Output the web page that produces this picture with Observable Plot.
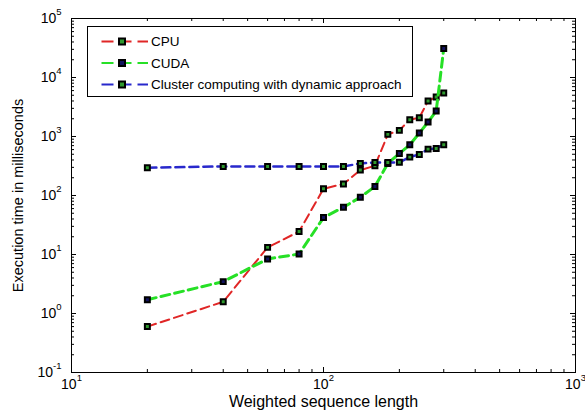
<!DOCTYPE html>
<html><head><meta charset="utf-8">
<script src="https://cdn.jsdelivr.net/npm/d3@7"></script>
<script src="https://cdn.jsdelivr.net/npm/@observablehq/plot@0.6"></script>
<style>body{margin:0;background:#fff} svg{display:block;background:#fff}</style>
</head><body><div id="chart"></div>
<script>
const lengths = [20,40,60,80,100,120,140,160,180,200,220,240,260,280,300];
const cpuTime = [0.60,1.58,13.2,24.5,130,157,270,319,1086,1270,1930,2085,3990,4670,5450];
const cudaTime = [1.71,3.47,8.4,10.2,42.3,63.3,93.5,142,349,516,726,1142,1755,2700,30970];
const clusterTime = [295,311,311,311,311,311,349,363,363,365,447,497,611,628,726];
const seriesNames = ["CPU","CUDA","Cluster computing with dynamic approach"];
const xMajorTicks = [10,100,1000];
const xTickLabels = ["10^1","10^2","10^3"];
const yMajorTicks = [0.1,1,10,100,1000,10000,100000];
const yTickLabels = ["10^-1","10^0","10^1","10^2","10^3","10^4","10^5"];
const xTitle = "Weighted sequence length";
const yTitle = "Execution time in milliseconds";

const styles = [
  {stroke:"#e02626", width:2, face:"#2f9a2f"},
  {stroke:"#26e026", width:3, face:"#12125e"},
  {stroke:"#2828cc", width:2.5, face:"#2f9a2f"}
];
const seriesValues = [cpuTime, cudaTime, clusterTime];

const minorOf = (majors) => {
  const out = [];
  for (let i = 0; i < majors.length - 1; i++) for (let m = 2; m <= 9; m++) out.push(+(majors[i]*m).toPrecision(3));
  return out;
};
const xMinorTicks = minorOf(xMajorTicks);
const yMinorTicks = minorOf(yMajorTicks);

const W = 585, H = 418, mL = 71, mR = 10, mT = 18, mB = 46;
const pw = W - mL - mR, ph = H - mT - mB;

const marks = [];
for (const [vals, len] of [[xMajorTicks,5],[xMinorTicks,3]]) {
  marks.push(Plot.tickX(vals, {x: d => d, insetTop: ph - len, stroke: "black", strokeWidth: 1}));
  marks.push(Plot.tickX(vals, {x: d => d, insetBottom: ph - len, stroke: "black", strokeWidth: 1}));
}
for (const [vals, len] of [[yMajorTicks,5],[yMinorTicks,3]]) {
  marks.push(Plot.tickY(vals, {y: d => d, insetRight: pw - len, stroke: "black", strokeWidth: 1}));
  marks.push(Plot.tickY(vals, {y: d => d, insetLeft: pw - len, stroke: "black", strokeWidth: 1}));
}
marks.push(Plot.frame({stroke: "black", strokeWidth: 1}));

seriesValues.forEach((vals, s) => {
  const rows = lengths.map((x, i) => ({x, y: vals[i]}));
  marks.push(Plot.line(rows, {x: "x", y: "y", stroke: styles[s].stroke, strokeWidth: styles[s].width, strokeDasharray: "9,5"}));
  marks.push(Plot.dot(rows, {x: "x", y: "y", symbol: "square", r: 2.8, fill: styles[s].face, stroke: "black", strokeWidth: 2}));
});

marks.push(Plot.text(xMajorTicks, {x: d => d, text: (d, i) => xTickLabels[i], frameAnchor: "bottom", dy: 16, fontSize: 14, textAnchor: "middle"}));
marks.push(Plot.text(yMajorTicks, {y: d => d, text: (d, i) => yTickLabels[i], frameAnchor: "left", dx: -10, fontSize: 14, textAnchor: "end"}));
marks.push(Plot.text([xTitle], {frameAnchor: "bottom", dy: 34, fontSize: 16, textAnchor: "middle"}));
marks.push(Plot.text([yTitle], {frameAnchor: "left", dx: -53, rotate: -90, fontSize: 14.5, textAnchor: "middle"}));

const chart = Plot.plot({
  width: W, height: H,
  marginLeft: mL, marginRight: mR, marginTop: mT, marginBottom: mB,
  x: {type: "log", domain: [10, 1000], axis: null},
  y: {type: "log", domain: [0.1, 100000], axis: null},
  style: {fontFamily: "'Liberation Sans', Arial, sans-serif", background: "white", color: "black"},
  marks
});
document.getElementById("chart").appendChild(chart);

// superscript exponents in tick labels
const NS = "http://www.w3.org/2000/svg";
chart.querySelectorAll("text").forEach(t => {
  const m = t.textContent.match(/^10\^(-?\d+)$/);
  if (m) {
    t.textContent = "10";
    const ts = document.createElementNS(NS, "tspan");
    ts.setAttribute("dy", "-8");
    ts.setAttribute("font-size", "9.5");
    ts.textContent = m[1];
    t.appendChild(ts);
  }
});

// legend
const svg = d3.select(chart);
const lg = svg.append("g").attr("font-family", "'Liberation Sans', Arial, sans-serif").attr("font-size", 13.5).attr("text-anchor", "start");
lg.append("rect").attr("x", 87.5).attr("y", 26.5).attr("width", 325).attr("height", 70).attr("fill", "white").attr("stroke", "black");
const rowY = [41.5, 63, 84.5];
seriesNames.forEach((name, s) => {
  const y = rowY[s];
  lg.append("line").attr("x1", 101.5).attr("x2", 148).attr("y1", y).attr("y2", y)
    .attr("stroke", styles[s].stroke).attr("stroke-width", 2).attr("stroke-dasharray", "12,6");
  lg.append("rect").attr("x", 122 - 3).attr("y", y - 3).attr("width", 6).attr("height", 6)
    .attr("fill", styles[s].face).attr("stroke", "black").attr("stroke-width", 2);
  lg.append("text").attr("x", 151).attr("y", y).attr("dy", "0.35em").attr("text-anchor", "start").text(name);
});
</script></body></html>
